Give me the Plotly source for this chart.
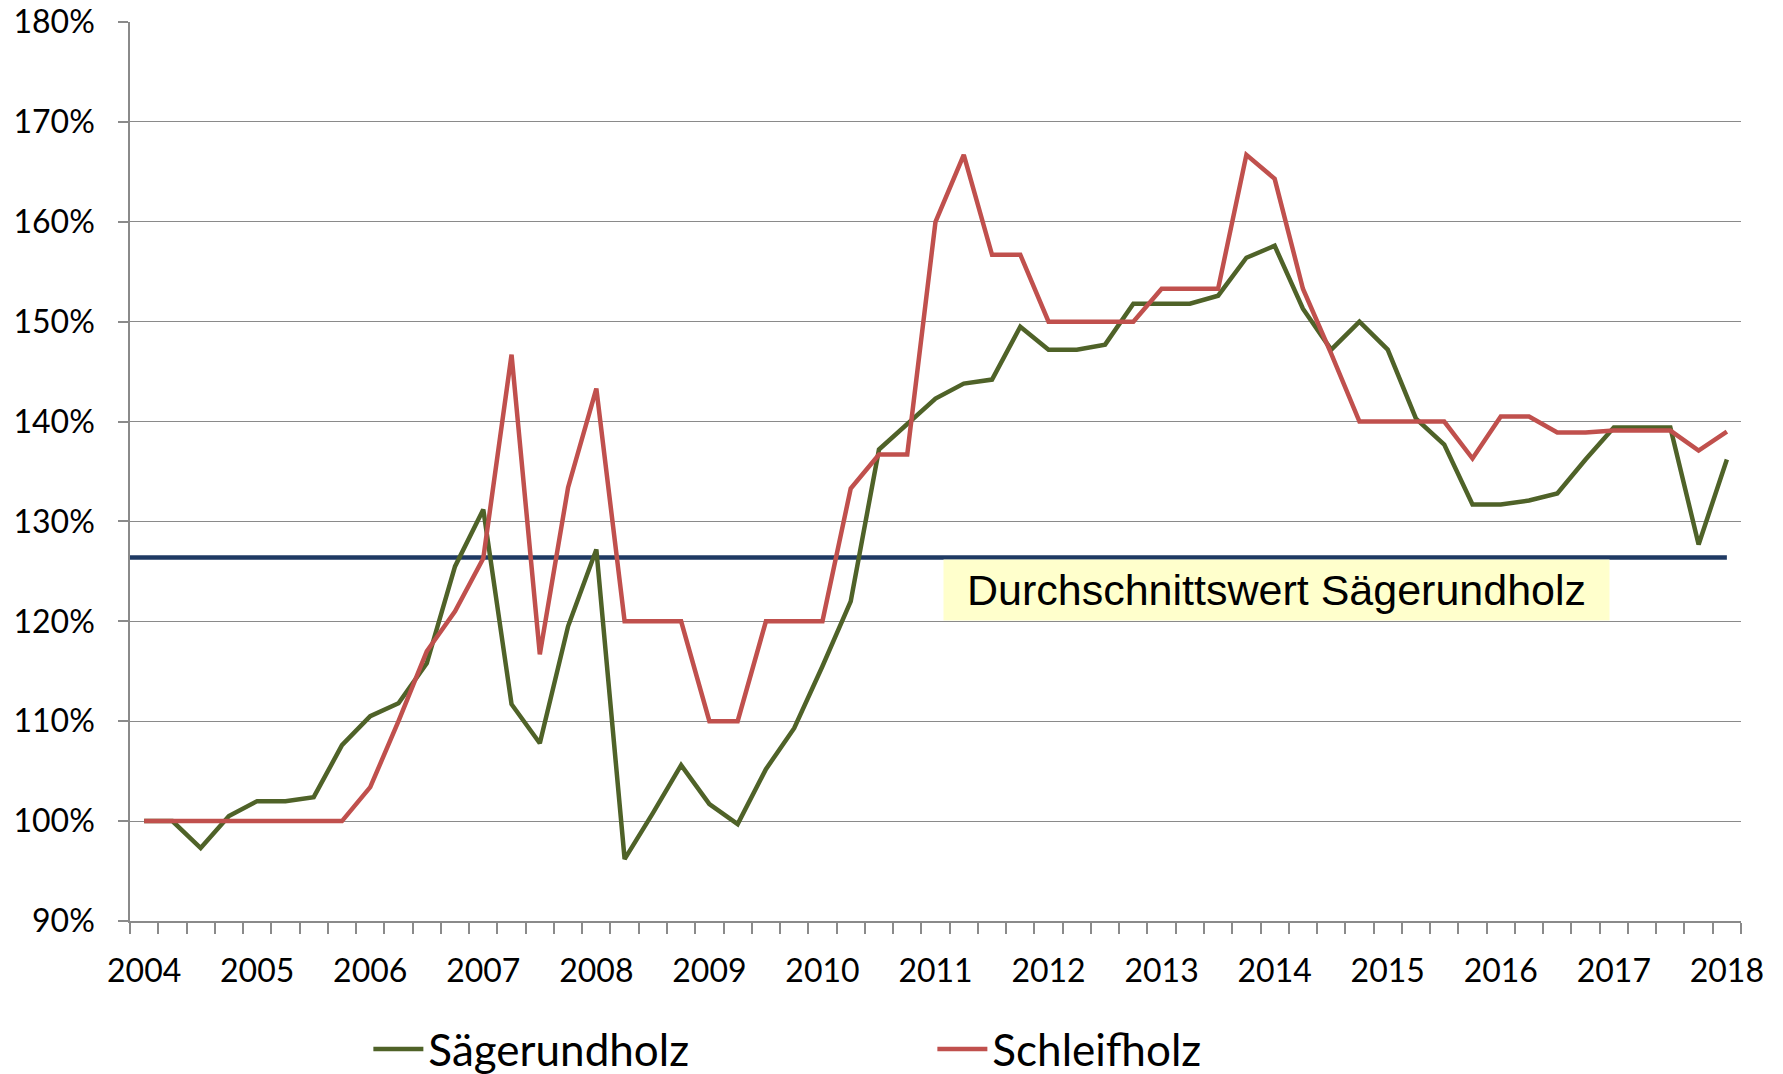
import plotly.graph_objects as go

# ---- data (quarterly index, 2004 Q1 .. 2018 Q1, in %) ----
years = [2004, 2005, 2006, 2007, 2008, 2009, 2010, 2011, 2012, 2013, 2014, 2015, 2016, 2017, 2018]
quarters_per_year = 4

saegerundholz = [
    100.0, 100.0, 97.3, 100.5, 102.0, 102.0, 102.4, 107.6,
    110.5, 111.8, 115.8, 125.5, 131.2, 111.7, 107.8, 119.5,
    127.2, 96.2, 100.8, 105.6, 101.7, 99.7, 105.2, 109.3,
    115.5, 122.0, 137.2, 139.8, 142.3, 143.8, 144.2, 149.5,
    147.2, 147.2, 147.7, 151.8, 151.8, 151.8, 152.6, 156.4,
    157.6, 151.3, 147.2, 150.0, 147.2, 140.3, 137.7, 131.7,
    131.7, 132.1, 132.8, 136.2, 139.4, 139.4, 139.4, 127.7,
    136.2,
]

schleifholz = [
    100.0, 100.0, 100.0, 100.0, 100.0, 100.0, 100.0, 100.0,
    103.4, 110.0, 117.0, 121.0, 126.3, 146.7, 116.7, 133.4,
    143.3, 120.0, 120.0, 120.0, 110.0, 110.0, 120.0, 120.0,
    120.0, 133.3, 136.7, 136.7, 160.0, 166.7, 156.7, 156.7,
    150.0, 150.0, 150.0, 150.0, 153.3, 153.3, 153.3, 166.7,
    164.3, 153.3, 146.8, 140.0, 140.0, 140.0, 140.0, 136.3,
    140.5, 140.5, 138.9, 138.9, 139.1, 139.1, 139.1, 137.1,
    139.0,
]

durchschnitt_saegerundholz = 126.4  # reference line value (%)
avg_label = "Durchschnittswert Sägerundholz"

y_ticks = [90, 100, 110, 120, 130, 140, 150, 160, 170, 180]

# ---- derived axis helpers ----
n = len(saegerundholz)
x = list(range(n))
year_pos = [i * quarters_per_year for i in range(len(years))]
year_text = [str(y) for y in years]
boundaries = [i - 0.5 for i in range(n + 1)]

GREEN = "#4F6228"
RED = "#C0504D"
NAVY = "#1F3A63"
GRID = "#8A8A8A"

fig = go.Figure()
fig.add_trace(go.Scatter(x=x, y=saegerundholz, mode="lines", name="Sägerundholz",
                         line=dict(color=GREEN, width=4.5)))
fig.add_trace(go.Scatter(x=x, y=schleifholz, mode="lines", name="Schleifholz",
                         line=dict(color=RED, width=4.5)))

fig.add_shape(type="line", xref="x", yref="y", x0=boundaries[0], x1=x[-1],
              y0=durchschnitt_saegerundholz, y1=durchschnitt_saegerundholz,
              line=dict(color=NAVY, width=4.5), layer="between")

fig.add_annotation(text=avg_label, xref="paper", yref="paper",
                   x=0.7117, y=0.368, xanchor="center", yanchor="middle",
                   showarrow=False, bgcolor="#FFFFCC", borderpad=0,
                   width=665, height=60, align="center",
                   font=dict(family="Liberation Sans", size=43, color="#000000"))

fig.update_layout(
    width=1783, height=1074,
    margin=dict(l=130, r=42, t=22, b=153, autoexpand=False),
    paper_bgcolor="white", plot_bgcolor="white",
    font=dict(family="Lato", color="#000000"),
    showlegend=True,
    legend=dict(orientation="h", xref="container", yref="container",
                x=0.2066, y=0.0228, xanchor="left", yanchor="middle",
                font=dict(family="Lato", size=44, color="#000000"),
                itemwidth=50,
                entrywidth=499, entrywidthmode="pixels",
                bgcolor="rgba(0,0,0,0)"),
)

fig.update_xaxes(
    range=[boundaries[0], boundaries[-1]], automargin=False,
    tickmode="array", tickvals=year_pos, ticktext=year_text,
    ticks="", showgrid=False, zeroline=False,
    showline=True, linecolor=GRID, linewidth=1.5,
    tickfont=dict(family="Lato", size=32, color="#000000"),
    ticklabelstandoff=21,
    minor=dict(tickmode="array", tickvals=boundaries, ticks="outside",
               ticklen=11, tickcolor=GRID, tickwidth=1.5, showgrid=False),
)

fig.update_yaxes(
    range=[y_ticks[0], y_ticks[-1]], automargin=False,
    tickmode="array", tickvals=y_ticks, ticktext=[f"{v}%" for v in y_ticks],
    ticks="outside", ticklen=10, tickcolor=GRID, tickwidth=1.5,
    showgrid=True, gridcolor=GRID, gridwidth=1.3,
    zeroline=False, showline=True, linecolor=GRID, linewidth=1.5,
    tickfont=dict(family="Lato", size=32, color="#000000"),
    ticklabelstandoff=17,
)

# remove the browser's default 8px body margin so the figure fills the window
fig.write_html("out.html", config={"displayModeBar": False},
               post_script="document.body.style.margin='0';")
